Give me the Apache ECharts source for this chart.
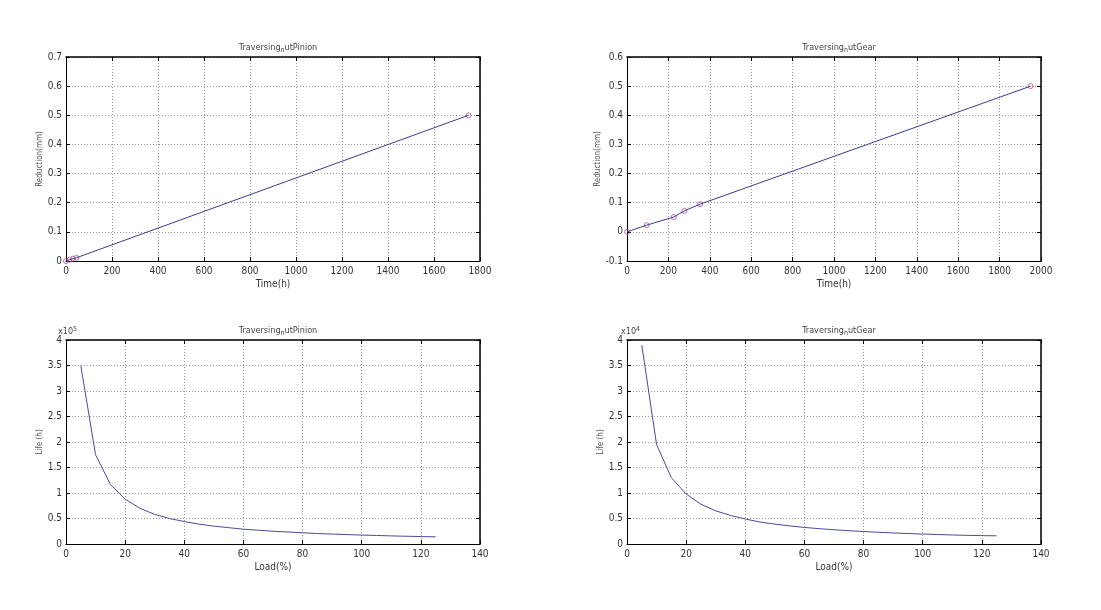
<!DOCTYPE html>
<html>
<head>
<meta charset="utf-8">
<script src="https://cdn.jsdelivr.net/npm/echarts@6/dist/echarts.min.js"></script>
<style>
html,body{margin:0;padding:0;background:#fff;}
#c{width:1101px;height:610px;}
</style>
</head>
<body>
<div id="c"></div>
<script>
// ---- data ----
const pinionTime = [0, 15, 30, 45, 1750];
const pinionReduction = [0, 0.004, 0.008, 0.011, 0.5];
const gearTime = [0, 95, 226, 277, 353, 1950];
const gearReduction = [0, 0.023, 0.051, 0.072, 0.095, 0.5];
const loadPct = [5,10,15,20,25,30,35,40,45,50,55,60,65,70,75,80,85,90,95,100,105,110,115,120,125];
const pinionLife = [350000,175000,117000,88000,70000,58000,50000,44000,39000,35000,32000,29000,27000,25000,23500,22000,20500,19500,18500,17500,16700,15900,15200,14600,14000];
const gearLife = [39000,19500,13000,9800,7800,6500,5600,4900,4300,3900,3550,3250,3000,2800,2600,2450,2300,2170,2050,1950,1860,1770,1700,1640,1600];
const titles = ['Traversing_nutPinion','Traversing_nutGear','Traversing_nutPinion','Traversing_nutGear'];
const xNames = ['Time(h)','Time(h)','Load(%)','Load(%)'];
const yNames = ['Reduction(mm)','Reduction(mm)','Life (h)','Life (h)'];

const FONT = "'Liberation Sans Narrow','DejaVu Sans Condensed','Liberation Sans',sans-serif";
const grids = [
  {left:66, top:57, width:414, height:204},
  {left:627, top:57, width:414, height:204},
  {left:66, top:340, width:414, height:204},
  {left:627, top:340, width:414, height:204}
];
const xRanges = [[0,1800,200],[0,2000,200],[0,140,20],[0,140,20]];
const yRanges = [[0,0.7,0.1],[-0.1,0.6,0.1],[0,400000,50000],[0,40000,5000]];
const yDiv = [1,1,1e5,1e4];

const xAxis = [], yAxis = [];
grids.forEach((g,i)=>{
  xAxis.push({
    type:'value', gridIndex:i, min:xRanges[i][0], max:xRanges[i][1], interval:xRanges[i][2],
    name:xNames[i], nameLocation:'middle', nameGap:18,
    nameTextStyle:{fontFamily:FONT,fontSize:10,color:'#333'},
    axisLine:{show:true,onZero:false,lineStyle:{color:'#000',width:1}},
    axisTick:{show:true,inside:true,length:4,lineStyle:{color:'#000'}},
    axisLabel:{fontFamily:FONT,fontSize:10,color:'#333',margin:5,formatter:v=>String(v)},
    splitLine:{show:true,lineStyle:{color:'#999',type:[1,2],width:1}}
  });
  xAxis.push({
    type:'value', gridIndex:i, position:'top', min:xRanges[i][0], max:xRanges[i][1], interval:xRanges[i][2],
    axisLine:{show:true,onZero:false,lineStyle:{color:'#000',width:1.5}},
    axisTick:{show:true,inside:true,length:4,lineStyle:{color:'#000'}},
    axisLabel:{show:false}, splitLine:{show:false}
  });
  const d = yDiv[i];
  yAxis.push({
    type:'value', gridIndex:i, min:yRanges[i][0], max:yRanges[i][1], interval:yRanges[i][2],
    name:yNames[i], nameLocation:'middle', nameGap:12, nameRotate:90,
    nameTextStyle:{fontFamily:FONT,fontSize:8,color:'#555'},
    axisLine:{show:true,onZero:false,lineStyle:{color:'#000',width:1}},
    axisTick:{show:true,inside:true,length:4,lineStyle:{color:'#000'}},
    axisLabel:{fontFamily:FONT,fontSize:10,color:'#333',margin:4,
      formatter:v=>{const r=Math.round(v/d*100)/100;return String(r);}},
    splitLine:{show:true,lineStyle:{color:'#999',type:[1,2],width:1}}
  });
  yAxis.push({
    type:'value', gridIndex:i, position:'right', min:yRanges[i][0], max:yRanges[i][1], interval:yRanges[i][2],
    axisLine:{show:true,onZero:false,lineStyle:{color:'#000',width:1.5}},
    axisTick:{show:true,inside:true,length:4,lineStyle:{color:'#000'}},
    axisLabel:{show:false}, splitLine:{show:false}
  });
});

function zip(a,b){return a.map((v,k)=>[v,b[k]]);}
const lineColor = '#3b3b96';
const markColor = '#b0508a';
const markStyle = {color:'rgba(0,0,0,0)',borderColor:markColor,borderWidth:1};
const series = [
  {type:'line', xAxisIndex:0, yAxisIndex:0, data:zip(pinionTime,pinionReduction), showSymbol:false, lineStyle:{color:lineColor,width:1}, animation:false},
  {type:'scatter', xAxisIndex:0, yAxisIndex:0, data:zip(pinionTime,pinionReduction), symbol:'circle', symbolSize:5, itemStyle:markStyle, animation:false},
  {type:'line', xAxisIndex:2, yAxisIndex:2, data:zip(gearTime,gearReduction), showSymbol:false, lineStyle:{color:lineColor,width:1}, animation:false},
  {type:'scatter', xAxisIndex:2, yAxisIndex:2, data:zip(gearTime,gearReduction), symbol:'circle', symbolSize:5, itemStyle:markStyle, animation:false},
  {type:'line', xAxisIndex:4, yAxisIndex:4, data:zip(loadPct,pinionLife), showSymbol:false, lineStyle:{color:'#4a4a9c',width:1}, animation:false},
  {type:'line', xAxisIndex:6, yAxisIndex:6, data:zip(loadPct,gearLife), showSymbol:false, lineStyle:{color:'#4a4a9c',width:1}, animation:false}
];

const titleRich = {
  a:{fontFamily:FONT,fontSize:9,fontWeight:'normal',color:'#444'},
  s:{fontFamily:FONT,fontSize:7,fontWeight:'normal',color:'#444',padding:[6,0,0,0]}
};
function titleText(t){
  const p = t.split('_');
  return '{a|'+p[0]+'}{s|'+p[1].charAt(0)+'}{a|'+p[1].slice(1)+'}';
}
const title = grids.map((g,i)=>({
  text:titleText(titles[i]), left:g.left+g.width/2, top:i<2?36:319, textAlign:'center',
  textStyle:{fontWeight:'normal',rich:titleRich}
}));

const graphic = [
  {type:'text', left:66-8, top:326, style:{text:'{a|x10}{b|5}', rich:{a:{fontFamily:FONT,fontSize:9,fill:'#444',padding:[4,0,0,0]},b:{fontFamily:FONT,fontSize:7,fill:'#444'}}}},
  {type:'text', left:627-6, top:326, style:{text:'{a|x10}{b|4}', rich:{a:{fontFamily:FONT,fontSize:9,fill:'#444',padding:[4,0,0,0]},b:{fontFamily:FONT,fontSize:7,fill:'#444'}}}}
];

const chart = echarts.init(document.getElementById('c'), null, {renderer:'canvas'});
chart.setOption({
  backgroundColor:'#fff',
  animation:false,
  title:title,
  grid:grids.map(g=>Object.assign({containLabel:false},g)),
  xAxis:xAxis, yAxis:yAxis, series:series, graphic:graphic
});
</script>
</body>
</html>
